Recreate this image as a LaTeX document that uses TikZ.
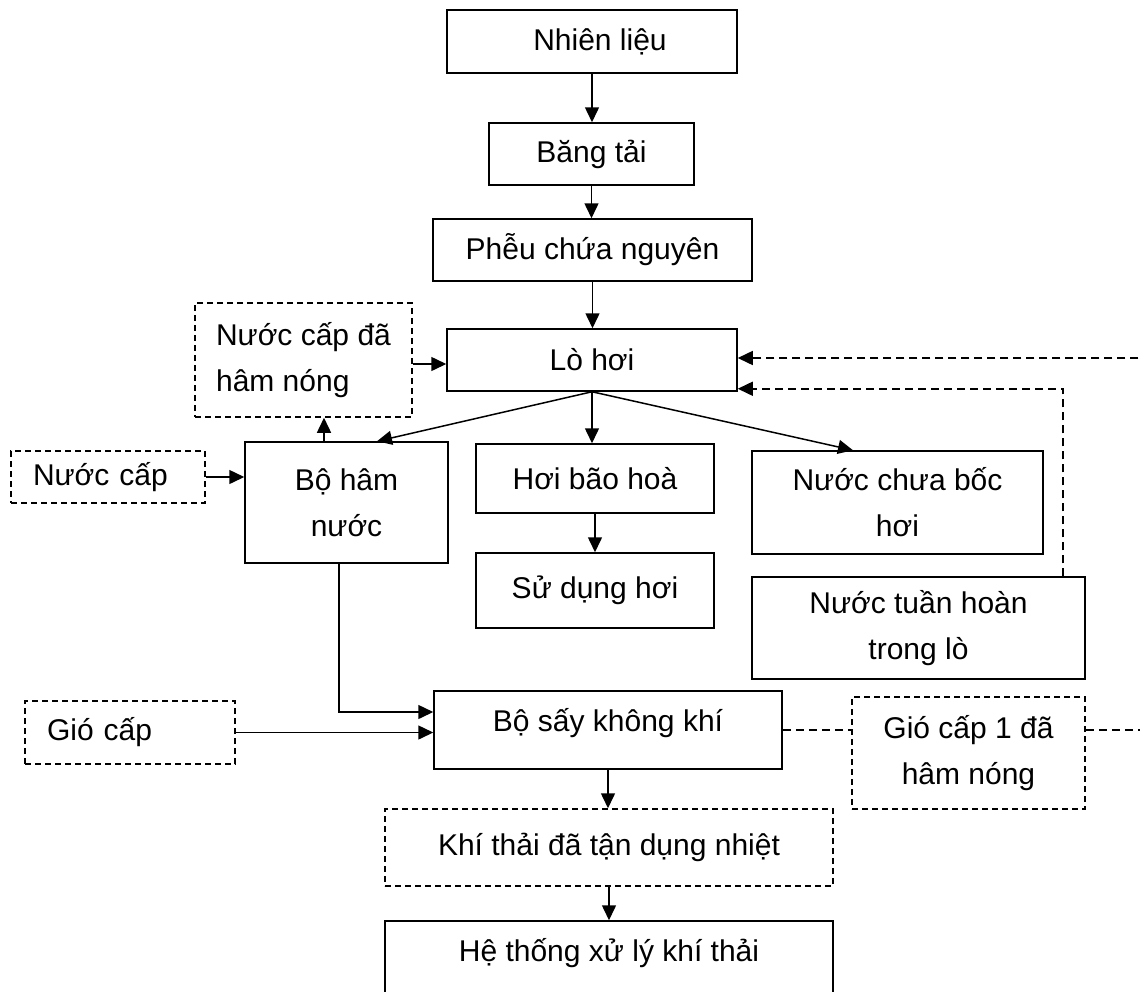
\documentclass[tikz,border=0pt]{standalone}
\usepackage{fontspec}
\setmainfont{Liberation Sans}
\usetikzlibrary{arrows.meta}

\tikzset{
  box/.style={draw, line width=1.5pt, inner sep=0pt, align=center,
    font=\fontsize{30}{46}\selectfont},
  dbox/.style={box, dash pattern=on 6pt off 4pt},
  flow/.style={line width=1.5pt, -{Triangle[length=15pt,width=14pt]}},
  dflow/.style={flow, dash pattern=on 8pt off 5pt},
  dlink/.style={line width=1.5pt, dash pattern=on 8pt off 5pt}
}
\newcommand{\up}[2]{\raisebox{#1}[\height][\depth]{#2}}

\begin{document}
\begin{tikzpicture}[x=1pt,y=-1pt]
\useasboundingbox (0,0) rectangle (1140,991);
\clip (0,0) rectangle (1140,991);
\fill[white] (0,0) rectangle (1140,991);

% fuel line
\node[box, minimum width=290pt, minimum height=63pt] (nl) at (592,41.5) {\hspace*{16pt}Nhiên liệu};
\node[box, minimum width=205pt, minimum height=62pt] (bt) at (591.5,154) {Băng tải};
\node[box, minimum width=319pt, minimum height=62pt] (ph) at (592.5,250) {Phễu chứa nguyên};
\node[box, minimum width=290pt, minimum height=62pt] (lh) at (592,360) {Lò hơi};

% water side
\node[dbox, minimum width=217pt, minimum height=114pt, align=left] (ncdhn) at (303.5,360) {Nước cấp đã\\hâm nóng};
\node[dbox, minimum height=52pt, text width=150pt, inner xsep=22pt, align=left] (nc) at (108,477) {Nước cấp};
\node[box, minimum width=203pt, minimum height=121pt] (bh) at (346.5,502.5) {Bộ hâm\\nước};

% steam / boiler water
\node[box, minimum width=238pt, minimum height=69pt] (hbh) at (595,478.5) {Hơi bão hoà};
\node[box, minimum width=238pt, minimum height=75pt] (sdh) at (595,590.5) {Sử dụng hơi};
\node[box, minimum width=291pt, minimum height=103pt] (ncbh) at (897.5,502.5) {Nước chưa bốc\\hơi};
\node[box, minimum width=333pt, minimum height=102pt] (ntl) at (918.5,628) {Nước tuần hoàn\\trong lò};

% air and flue gas
\node[box, minimum width=348pt, minimum height=78pt] (bsk) at (608,730) {\up{7pt}{Bộ sấy không khí}};
\node[dbox, minimum height=63pt, text width=166pt, inner xsep=22pt, align=left] (gc) at (130,732.5) {Gió cấp};
\node[dbox, minimum width=233pt, minimum height=112pt] (g1) at (968.5,753) {Gió cấp 1 đã\\hâm nóng};
\node[dbox, minimum width=448pt, minimum height=77pt] (kt) at (609,847.5) {Khí thải đã tận dụng nhiệt};
\node[box, minimum width=448pt, minimum height=80pt] (ht) at (609,961) {\up{8pt}{Hệ thống xử lý khí thải}};

\coordinate (rimlow) at (1160,730);
\coordinate (rimhigh) at (1160,358);

% connectors
\draw[flow] (nl.south) -- (nl.south |- bt.north);
\draw[flow] (bt.south) -- (bt.south |- ph.north);
\draw[flow] (ph.south) -- (ph.south |- lh.north);
\draw[flow] (lh.south) -- ([xshift=30.5pt]bh.north);
\draw[flow] (lh.south) -- (lh.south |- hbh.north);
\draw[flow] (lh.south) -- ([xshift=-44.5pt]ncbh.north);
\draw[flow] (hbh.south) -- (hbh.south |- sdh.north);
\draw[flow] (nc.east) -- (nc.east -| bh.west);
\draw[flow] ([xshift=-22.5pt]bh.north) -- ([xshift=-22.5pt]bh.north |- ncdhn.south);
\draw[flow] ([yshift=-4pt]ncdhn.east) -- ([yshift=-4pt]ncdhn.east -| lh.west);
\draw[flow] ([xshift=-7.5pt]bh.south) |- ([yshift=18pt]bsk.west);
\draw[flow] (gc.east) -- (gc.east -| bsk.west);
\draw[dlink] (bsk.east) -- (bsk.east -| g1.west);
\draw[dflow] (g1.east |- bsk.east) -- (rimlow) -- (rimhigh) -- (rimhigh -| lh.east);
\draw[dflow] ([xshift=144.5pt]ntl.north) |- ([yshift=3pt]lh.south east);
\draw[flow] (bsk.south) -- (bsk.south |- kt.north);
\draw[flow] (kt.south) -- (kt.south |- ht.north);
\end{tikzpicture}
\end{document}
